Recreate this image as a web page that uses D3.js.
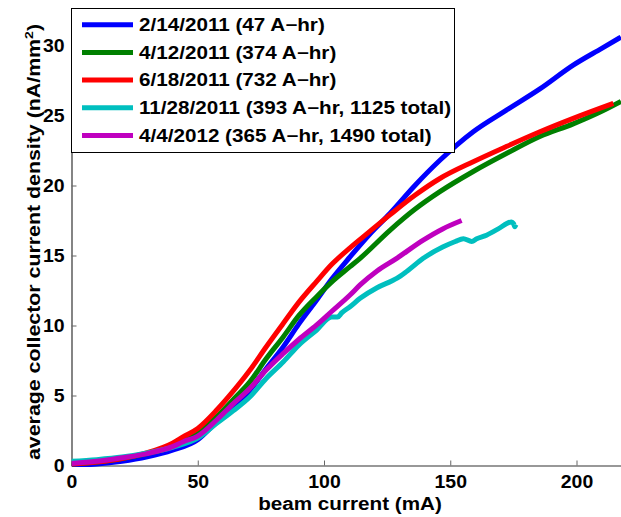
<!DOCTYPE html>
<html><head><meta charset="utf-8">
<script src="https://cdn.jsdelivr.net/npm/d3@7"></script>
<style>
body{margin:0;background:#fff;}
svg{display:block;font-family:"Liberation Sans",Arial,Helvetica,sans-serif;font-weight:bold;}
</style></head><body>
<svg id="c" width="621" height="517"></svg>
<script>
// ---- data ----
const seriesNames = ["2/14/2011 (47 A\u2212hr)", "4/12/2011 (374 A\u2212hr)", "6/18/2011 (732 A\u2212hr)", "11/28/2011 (393 A\u2212hr, 1125 total)", "4/4/2012 (365 A\u2212hr, 1490 total)"];
const seriesColors = ["#0000ff", "#008000", "#ff0000", "#00bfbf", "#bf00bf"];

const blueX = [0,10,20,30,40,50,57.5,64,70.7,77,83.9,90,97.1,103,110.3,118,126.1,136,145.9,159.1,172.4,185.5,198.7,210,217.6];
const blueY = [0.02,0.1,0.3,0.62,1.1,1.85,3.13,4.2,5.39,6.9,8.49,10.1,11.82,13.3,14.9,16.5,18.0,20.0,21.8,23.84,25.4,26.9,28.6,29.8,30.6];

const greenX = [0,10,20,30,40,44.3,50,57.5,64,70.7,77,83.9,90,97.1,103,110.3,114.3,126.1,136,145.9,159.1,172.4,185.5,198.7,210,217.6];
const greenY = [0.1,0.25,0.5,0.85,1.4,1.82,2.4,3.49,4.7,5.99,7.6,9.2,10.7,12.06,13.1,14.2,14.8,16.8,18.3,19.56,21.0,22.3,23.5,24.4,25.3,26.0];

const redX = [0,10,20,30,40,44.3,50,57.5,62.8,70.7,77,83.9,90,97.1,103,110.3,114.3,126.1,136,145.9,159.1,172.4,185.5,198.7,214.6];
const redY = [0.1,0.25,0.5,0.92,1.6,2.06,2.65,3.96,5.04,6.82,8.45,10.16,11.65,13.15,14.35,15.55,16.15,17.9,19.3,20.5,21.7,22.8,23.84,24.8,25.87];

const cyanX = [0,10,20,30,40,50,57.5,64,70.7,77,83.9,90,97.1,103,105.4,107,110.3,114.3,121,127,128.8,133,139.3,147,152,155.2,158.5,160.5,163.7,169,174.3,175,175.6,176];
const cyanY = [0.3,0.42,0.6,0.9,1.3,1.95,3.01,3.9,4.91,6.2,7.41,8.6,9.68,10.6,10.6,10.9,11.34,11.94,12.7,13.2,13.37,13.9,14.8,15.6,16.0,16.2,16.0,16.2,16.4,16.9,17.4,17.3,17.06,17.2];

const magentaX = [0,10,20,30,40,44.3,50,57.5,64,70.7,77,83.9,90,97.1,103,110.3,114.3,121,128.8,139.3,147,154.5];
const magentaY = [0.15,0.3,0.55,0.85,1.35,1.7,2.1,3.25,4.4,5.51,6.8,8.01,9.0,10.04,11.0,12.18,12.9,13.9,14.8,16.1,16.9,17.5];

const xTicks = [0,50,100,150,200];
const yTicks = [0,5,10,15,20,25,30];

const seriesX = [blueX, greenX, redX, cyanX, magentaX];
const seriesY = [blueY, greenY, redY, cyanY, magentaY];

// ---- chart ----
const svg = d3.select("#c");
const x = d3.scaleLinear().domain([0,220]).range([71.5, 627]);
const y = d3.scaleLinear().domain([0,31]).range([465.5, 31.5]);

function stretch(sel, k){
  sel.each(function(){
    const w = this.getComputedTextLength();
    d3.select(this).attr("textLength", w*k).attr("lengthAdjust","spacingAndGlyphs");
  });
}

// axes
const gx = svg.append("g").attr("transform","translate(0,465.5)")
  .call(d3.axisBottom(x).tickValues(xTicks).tickSizeInner(-5).tickSizeOuter(0).tickPadding(10));
const gy = svg.append("g").attr("transform","translate(71.5,0)")
  .call(d3.axisLeft(y).tickValues(yTicks).tickSizeInner(-5).tickSizeOuter(0).tickPadding(7));
[gx,gy].forEach(g=>{
  g.select(".domain").attr("stroke","#333").attr("stroke-width",1.2);
  g.selectAll(".tick line").attr("stroke","#666");
  g.selectAll(".tick text").attr("font-size",18).attr("font-weight","bold").attr("fill","#000")
   .attr("font-family","Liberation Sans, Arial, sans-serif");
  stretch(g.selectAll(".tick text"), 1.08);
});
gy.selectAll(".tick").filter(d=>d===0).select("line").remove();
gx.selectAll(".tick").filter(d=>d===0).select("line").remove();

// lines
const line = d3.line().x(d=>x(d[0])).y(d=>y(d[1])).curve(d3.curveMonotoneX);
svg.append("clipPath").attr("id","pc").append("rect")
  .attr("x",71.5).attr("y",0).attr("width",560).attr("height",467);
seriesX.forEach((xs,i)=>{
  const pts = xs.map((v,j)=>[v, seriesY[i][j]]);
  svg.append("path").attr("d",line(pts)).attr("fill","none")
    .attr("stroke",seriesColors[i]).attr("stroke-width",5)
    .attr("stroke-linejoin","round").attr("stroke-linecap","butt")
    .attr("clip-path","url(#pc)");
});

// legend
const lg = svg.append("g");
lg.append("rect").attr("x",71.5).attr("y",8.5).attr("width",383).attr("height",144)
  .attr("fill","#fff").attr("stroke","#000").attr("stroke-width",1);
const rowY = d3.scaleLinear().domain([0,4]).range([24.7,135.5]);
seriesNames.forEach((n,i)=>{
  lg.append("line").attr("x1",82).attr("x2",133).attr("y1",rowY(i)).attr("y2",rowY(i))
    .attr("stroke",seriesColors[i]).attr("stroke-width",5);
  const t = lg.append("text").attr("x",139).attr("y",rowY(i)).attr("dy","0.36em")
    .attr("font-size",17.5).text(n);
  stretch(t, 1.18);
});

// axis titles
const xt = svg.append("text").attr("x",350).attr("y",510).attr("text-anchor","middle")
  .attr("font-size",17.5).text("beam current (mA)");
stretch(xt, 1.18);
const yt = svg.append("text").attr("transform","translate(40,242) rotate(-90) scale(1.22,1)")
  .attr("text-anchor","middle").attr("font-size",17.5);
yt.append("tspan").text("average collector current density (nA/mm");
yt.append("tspan").attr("dy",-7).attr("font-size",11.5).text("2");
yt.append("tspan").attr("dy",7).text(")");
</script>
</body></html>
